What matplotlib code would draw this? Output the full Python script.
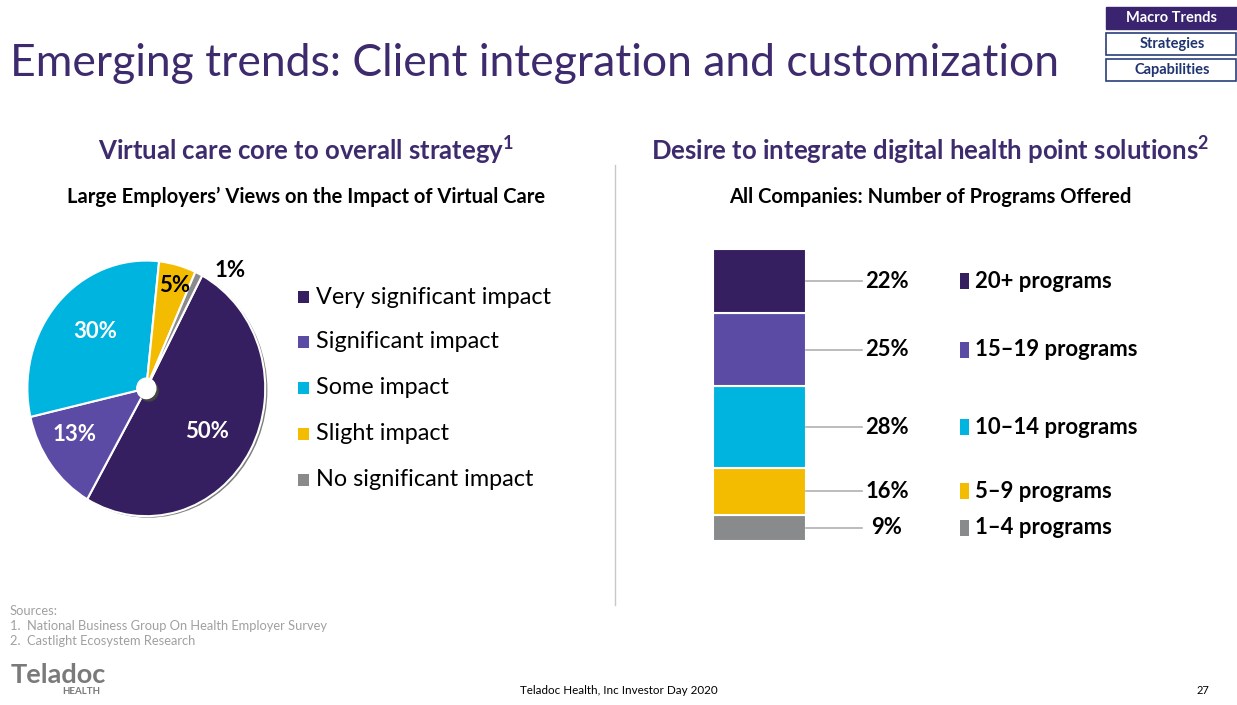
import matplotlib
matplotlib.use("Agg")
import matplotlib.pyplot as plt
from matplotlib.patches import Rectangle, Circle
import numpy as np

# ---------------- data ----------------
pie_labels = ["Very significant impact", "Significant impact", "Some impact",
              "Slight impact", "No significant impact"]
pie_values = [50, 13, 30, 5, 1]

bar_labels = ["20+ programs", "15\u201319 programs", "10\u201314 programs",
              "5\u20139 programs", "1\u20134 programs"]
bar_values = [22, 25, 28, 16, 9]

title_text = "Emerging trends: Client integration and customization"
left_title = "Virtual care core to overall strategy"
left_sub = "Large Employers\u2019 Views on the Impact of Virtual Care"
right_title = "Desire to integrate digital health point solutions"
right_sub = "All Companies: Number of Programs Offered"
nav_items = ["Macro Trends", "Strategies", "Capabilities"]
sources = ["Sources:", "1.  National Business Group On Health Employer Survey",
           "2.  Castlight Ecosystem Research"]

# ---------------- style ----------------
C_DARK = "#361f61"
C_MID = "#5b4ba5"
C_CYAN = "#00b4e0"
C_YEL = "#f4bc00"
C_GRAY = "#898a8c"
colors = [C_DARK, C_MID, C_CYAN, C_YEL, C_GRAY]
TITLE_C = "#3d2b6e"
FONT = "Lato"
plt.rcParams["font.family"] = [FONT, "DejaVu Sans"]
plt.rcParams["mathtext.fontset"] = "custom"
plt.rcParams["mathtext.rm"] = FONT
plt.rcParams["mathtext.bf"] = FONT + ":bold"

W, H = 1237, 705
fig = plt.figure(figsize=(W / 100, H / 100), dpi=100)
fig.patch.set_facecolor("white")


def fx(x):
    return x / W


def fy(y):
    return 1 - y / H


def px_axes(left, top, width, height):
    return fig.add_axes([fx(left), fy(top + height), width / W, height / H])


# ---------------- header ----------------
fig.text(fx(10), fy(64), title_text, fontsize=32, color=TITLE_C,
         ha="left", va="center", fontweight="normal")

nav_y = [18, 44, 70]
for i, (lab, yy) in enumerate(zip(nav_items, nav_y)):
    if i == 0:
        fig.patches.append(Rectangle((fx(1106), fy(yy + 11)), 131 / W, 22 / H,
                                     transform=fig.transFigure, facecolor="#3a2470",
                                     edgecolor="#3a2470", lw=1))
        tc = "white"
    else:
        fig.patches.append(Rectangle((fx(1106), fy(yy + 11)), 130 / W, 22 / H,
                                     transform=fig.transFigure, facecolor="white",
                                     edgecolor="#2a3f7a", lw=1.2))
        tc = "#1f3470"
    fig.text(fx(1172), fy(yy), lab, fontsize=10.5, fontweight="bold", color=tc,
             ha="center", va="center")

# section headers
fig.text(fx(306), fy(150), left_title + r"$^{\mathbf{1}}$", fontsize=18.5,
         fontweight="bold", color=TITLE_C, ha="center", va="center")
fig.text(fx(306), fy(197), left_sub, fontsize=14.5, fontweight="bold",
         color="black", ha="center", va="center")
fig.text(fx(930), fy(150), right_title + r"$^{\mathbf{2}}$", fontsize=18.5,
         fontweight="bold", color=TITLE_C, ha="center", va="center")
fig.text(fx(930), fy(197), right_sub, fontsize=14.5, fontweight="bold",
         color="black", ha="center", va="center")

# divider
fig.add_artist(plt.Line2D([fx(615), fx(615)], [fy(165), fy(605)],
                          transform=fig.transFigure, color="#c8c8c8", lw=1))

# ---------------- pie ----------------
axp = px_axes(25, 258, 245, 262)
total = sum(pie_values)
# subtle shadow behind the pie
axp.add_patch(Circle((0.018, -0.012), 1.0, facecolor="#2a2a2a", edgecolor="none",
                     zorder=0, alpha=0.6))
wedges, _ = axp.pie(pie_values, colors=colors, startangle=62, counterclock=False,
                    radius=1, wedgeprops=dict(edgecolor="white", linewidth=1.5))
axp.set_xlim(-1.02, 1.04)
axp.set_ylim(-1.03, 1.02)
axp.set_aspect("auto")
axp.axis("off")
axp.add_patch(Circle((0.02, -0.02), 0.085, facecolor="#444444", edgecolor="none", zorder=4))
axp.add_patch(Circle((0, 0), 0.08, facecolor="white", edgecolor="white", zorder=5))

ang = 62.0
label_r = [0.61, 0.70, 0.62, 0.84, 1.16]
label_da = [-5, -5.5, -4.7, -1.4, -11]
label_col = ["white", "white", "white", "black", "black"]
for v, r, da, c in zip(pie_values, label_r, label_da, label_col):
    span = v / total * 360
    mid = np.deg2rad(ang - span / 2 + da)
    ang -= span
    axp.text(r * np.cos(mid), r * np.sin(mid), f"{v}%", ha="center", va="center",
             fontsize=16, fontweight="bold", color=c, zorder=6)

# pie legend
leg_y = [297, 342, 388, 434, 480]
for lab, col, yy in zip(pie_labels, colors, leg_y):
    fig.patches.append(Rectangle((fx(298), fy(yy + 6)), 11 / W, 12 / H,
                                 transform=fig.transFigure, facecolor=col, edgecolor="none"))
    fig.text(fx(316), fy(yy), lab, fontsize=16.8, color="black", ha="left",
             va="center")

# ---------------- stacked bar ----------------
bar_left, bar_top, bar_h = 713, 249, 292
axb = px_axes(bar_left, bar_top, 1237 - bar_left, bar_h)
axb.set_xlim(0, 1237 - bar_left)
axb.set_ylim(0, sum(bar_values))
axb.axis("off")
sq_h = 16 / bar_h * sum(bar_values)
bottom = 0
stack = list(zip(bar_labels, bar_values, colors))[::-1]
for lab, v, col in stack:
    axb.bar(0, v, bottom=bottom, width=93, align="edge", color=col,
            edgecolor="white", linewidth=1.5)
    mid = bottom + v / 2
    axb.plot([93, 149], [mid, mid], color="#b0b0b0", lw=1.2)
    axb.text(174, mid, f"{v}%", ha="center", va="center", fontsize=15.8,
             fontweight="bold", color="black")
    axb.add_patch(Rectangle((247, mid - sq_h / 2), 9, sq_h, facecolor=col,
                            edgecolor="none"))
    axb.text(262, mid, lab, ha="left", va="center", fontsize=15.9,
             fontweight="bold", color="black")
    bottom += v

# ---------------- footer ----------------
for i, s in enumerate(sources):
    fig.text(fx(10), fy(611 + 15 * i), s, fontsize=9.3,
             color="#a0a0a0", ha="left", va="center")
fig.text(fx(11), fy(675), "Teladoc", fontsize=19.5, fontweight="bold",
         color="#7a7a7a", ha="left", va="center")
fig.text(fx(81), fy(691), "HEALTH", fontsize=7, fontweight="bold",
         color="#7a7a7a", ha="center", va="center")
fig.text(fx(619), fy(691), "Teladoc Health, Inc Investor Day 2020", fontsize=8.4,
         color="black", ha="center", va="center")
fig.text(fx(1203), fy(691), "27", fontsize=8, color="black", ha="center",
         va="center")

fig.savefig("out.png", dpi=100)
